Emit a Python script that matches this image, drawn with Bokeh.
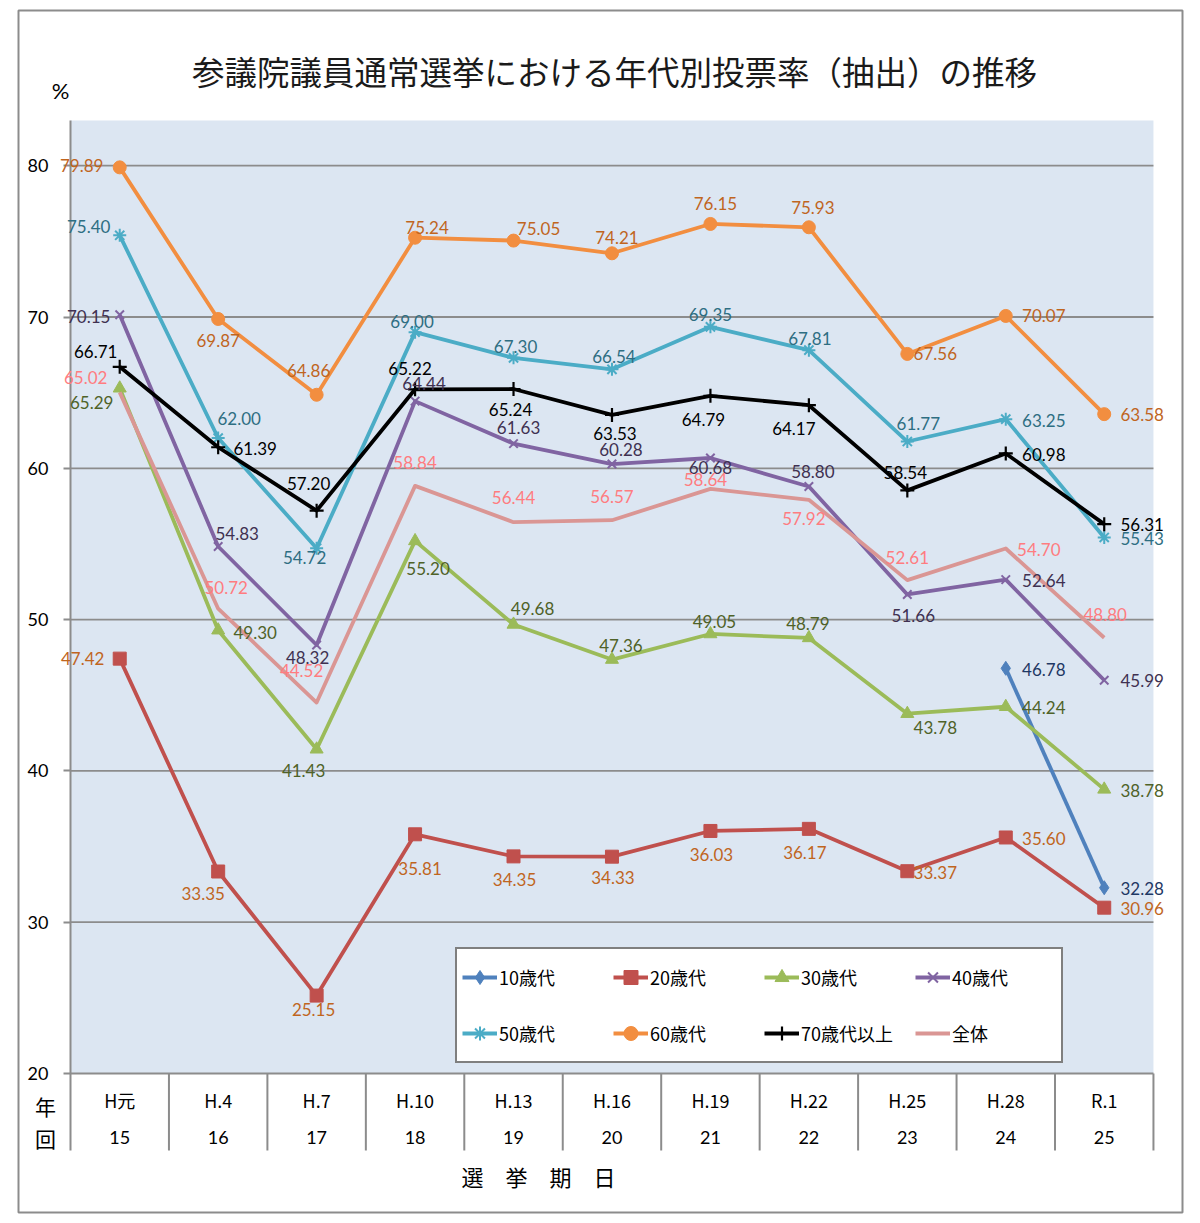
import math
from bokeh.plotting import figure
from bokeh.models import ColumnDataSource, LabelSet, Label, Range1d, FixedTicker
from bokeh.core.properties import value
from bokeh.embed import file_html
from bokeh.resources import INLINE

NaN = float("nan")

# ---------------- data ----------------
eras = ["H元", "H.4", "H.7", "H.10", "H.13", "H.16", "H.19", "H.22", "H.25", "H.28", "R.1"]
rounds = ["15", "16", "17", "18", "19", "20", "21", "22", "23", "24", "25"]
y_ticks = [20, 30, 40, 50, 60, 70, 80]

teens      = [NaN, NaN, NaN, NaN, NaN, NaN, NaN, NaN, NaN, 46.78, 32.28]
twenties   = [47.42, 33.35, 25.15, 35.81, 34.35, 34.33, 36.03, 36.17, 33.37, 35.60, 30.96]
thirties   = [65.29, 49.30, 41.43, 55.20, 49.68, 47.36, 49.05, 48.79, 43.78, 44.24, 38.78]
forties    = [70.15, 54.83, 48.32, 64.44, 61.63, 60.28, 60.68, 58.80, 51.66, 52.64, 45.99]
fifties    = [75.40, 62.00, 54.72, 69.00, 67.30, 66.54, 69.35, 67.81, 61.77, 63.25, 55.43]
sixties    = [79.89, 69.87, 64.86, 75.24, 75.05, 74.21, 76.15, 75.93, 67.56, 70.07, 63.58]
seventies  = [66.71, 61.39, 57.20, 65.22, 65.24, 63.53, 64.79, 64.17, 58.54, 60.98, 56.31]
overall    = [65.02, 50.72, 44.52, 58.84, 56.44, 56.57, 58.64, 57.92, 52.61, 54.70, 48.80]

# label offsets in screen pixels (dx right, dy down) -- positions only
off_teens     = [(0, 0)] * 9 + [(38, 1), (38, 1)]
off_twenties  = [(-37, 0), (-15, 22), (-3, 14), (5, 34), (1, 23), (1, 21), (1, 24), (-4, 24), (28, 1), (38, 1), (38, 1)]
off_thirties  = [(-28, 14), (37, 2), (-13, 21), (13, 28), (19, -16), (9, -14), (4, -12), (-1, -14), (28, 14), (38, 1), (38, 1)]
off_forties   = [(-31, 2), (19, -13), (-9, 12), (9, -18), (5, -16), (9, -15), (0, 9), (4, -15), (6, 21), (38, 1), (38, 0)]
off_fifties   = [(-31, -9), (21, -20), (-12, 9), (-3, -11), (2, -11), (2, -13), (0, -12), (1, -12), (11, -18), (38, 1), (38, 1)]
off_sixties   = [(-38, -2), (0, 22), (-8, -24), (12, -10), (25, -12), (5, -16), (5, -20), (4, -20), (28, 0), (38, 0), (38, 0)]
off_seventies = [(-24, -15), (37, 1), (-8, -27), (-5, -21), (-3, 20), (3, 19), (-7, 24), (-15, 23), (-2, -18), (38, 1), (38, 0)]
off_overall   = [(-34, -15), (8, -21), (-15, -32), (0, -23), (0, -25), (0, -24), (-5, -9), (-5, 19), (0, -23), (33, 1), (1, -23)]

series = [
    # name, values, line colour, label colour, marker, size, offsets
    ("10歳代", teens, "#4F81BD", "#1F3864", "diamond", 14, off_teens),
    ("20歳代", twenties, "#C0504D", "#C0651E", "square", 13, off_twenties),
    ("30歳代", thirties, "#9BBB59", "#4F6228", "triangle", 13, off_thirties),
    ("40歳代", forties, "#8064A2", "#403151", "x", 12, off_forties),
    ("50歳代", fifties, "#4BACC6", "#2E6E82", "asterisk", 13, off_fifties),
    ("60歳代", sixties, "#F28E40", "#C0651E", "circle", 13, off_sixties),
    ("70歳代以上", seventies, "#000000", "#000000", "cross", 14, off_seventies),
    ("全体", overall, "#DA9694", "#FF7C80", None, 0, off_overall),
]

# ---------------- layout constants (screen pixels) ----------------
W, H = 1192, 1215
PX0, PXU = 70.0, 98.45      # screen x of category boundary 0, px per category
PY20, PYU = 1073.0, 15.13   # screen y of value 20, px per percentage point
Y_TOP = 20 + (PY20 - 120) / PYU        # top of plot area
Y_SEP = 20 - (1150 - PY20) / PYU       # lower end of category separators


def X(px):
    return (px - PX0) / PXU


def Y(py):
    return 20 + (PY20 - py) / PYU


n = len(eras)
xs = [i + 0.5 for i in range(n)]

p = figure(width=W, height=H, output_backend="svg", toolbar_location=None,
           x_range=Range1d(X(0), X(W)), y_range=Range1d(Y(H), Y(0)),
           min_border=0)
p.title = None
p.background_fill_color = "white"
p.border_fill_color = "white"
p.outline_line_color = None
p.xgrid.visible = False
p.ygrid.visible = False
p.xaxis.visible = False

# plot area background
p.quad(left=[0], right=[n], bottom=[20], top=[Y_TOP], fill_color="#DCE6F2", line_color=None)
# horizontal grid lines
p.segment(x0=[0] * len(y_ticks), x1=[n] * len(y_ticks), y0=y_ticks, y1=y_ticks,
          line_color="#8C8C8C", line_width=1.8)
# category separators below the plot area
seps = list(range(1, n + 1))
p.segment(x0=seps, x1=seps, y0=[20] * len(seps), y1=[Y_SEP] * len(seps),
          line_color="#8C8C8C", line_width=2)

# y axis drawn at x = 0
ya = p.yaxis[0]
ya.fixed_location = 0
ya.bounds = (Y_SEP, Y_TOP)
ya.ticker = FixedTicker(ticks=y_ticks)
ya.minor_tick_line_color = None
ya.major_tick_in = 0
ya.major_tick_out = 7
ya.major_tick_line_color = "#8C8C8C"
ya.major_tick_line_width = 2
ya.axis_line_color = "#8C8C8C"
ya.axis_line_width = 2
ya.major_label_standoff = 15
ya.major_label_text_font = "Lato"
ya.major_label_text_font_size = "18px"
ya.major_label_text_color = "black"

for name, vals, col, lcol, marker, size, offs in series:
    p.line(xs, vals, line_color=col, line_width=3.8, line_join="round", legend_label=name)
    if marker:
        if marker in ("x", "asterisk", "cross"):
            p.scatter(xs, vals, marker=marker, size=size, line_color=col,
                      line_width=2 if marker != "cross" else 2.2, legend_label=name)
        else:
            p.scatter(xs, vals, marker=marker, size=size, fill_color=col, line_color=col,
                      legend_label=name)
    lx, ly, lt, dxs, dys = [], [], [], [], []
    for x, v, (dx, dy) in zip(xs, vals, offs):
        if isinstance(v, float) and math.isnan(v):
            continue
        lx.append(x); ly.append(v); lt.append(f"{v:.2f}")
        dxs.append(dx); dys.append(-dy)
    src = ColumnDataSource(dict(x=lx, y=ly, t=lt, dx=dxs, dy=dys))
    p.add_layout(LabelSet(x="x", y="y", text="t", source=src, x_offset="dx", y_offset="dy",
                          text_align="center", text_baseline="middle",
                          text_font=value("Lato"), text_font_size="17px", text_color=lcol))

# legend
lg = p.legend[0]
lg.orientation = "horizontal"
lg.ncols = 4
lg.location = (455, H - 1063)
lg.label_text_font = "Noto Sans CJK JP"
lg.label_text_font_size = "18px"
lg.label_text_color = "black"
lg.glyph_width = 35
lg.glyph_height = 46
lg.label_height = 46
lg.label_width = 104
lg.label_standoff = 2
lg.spacing = 10
lg.padding = 5
lg.margin = 0
lg.border_line_color = "black"
lg.border_line_width = 2
lg.background_fill_color = "white"
lg.background_fill_alpha = 1

# category labels below the plot area
cat_src = ColumnDataSource(dict(x=xs, era=eras, rnd=rounds,
                                ye=[Y(1099)] * n, yr=[Y(1137)] * n))
p.add_layout(LabelSet(x="x", y="ye", text="era", source=cat_src, text_align="center",
                      text_baseline="middle", text_font=value("Noto Sans CJK JP"),
                      text_font_size="18px", text_color="black"))
p.add_layout(LabelSet(x="x", y="yr", text="rnd", source=cat_src, text_align="center",
                      text_baseline="middle", text_font=value("Lato"),
                      text_font_size="18px", text_color="black"))

for txt, px, py, font, size, color in [
    ("年", 45, 1105, "Noto Sans CJK JP", "21px", "black"),
    ("回", 45, 1137, "Noto Sans CJK JP", "21px", "black"),
    ("選　挙　期　日", 538, 1175, "Noto Sans CJK JP", "22px", "black"),
    ("%", 60, 90, "Lato", "22px", "black"),
    ("参議院議員通常選挙における年代別投票率（抽出）の推移", 614, 70, "Noto Sans CJK JP", "32.5px", "#1a1a1a"),
]:
    p.add_layout(Label(x=X(px), y=Y(py), text=txt, text_align="center", text_baseline="middle",
                       text_font=font, text_font_size=size, text_color=color))

# outer frame of the chart
p.quad(left=[X(18)], right=[X(1182)], bottom=[Y(1212)], top=[Y(10)],
       fill_color=None, line_color="#8C8C8C", line_width=2)

open("out.html", "w").write(file_html(p, INLINE))
